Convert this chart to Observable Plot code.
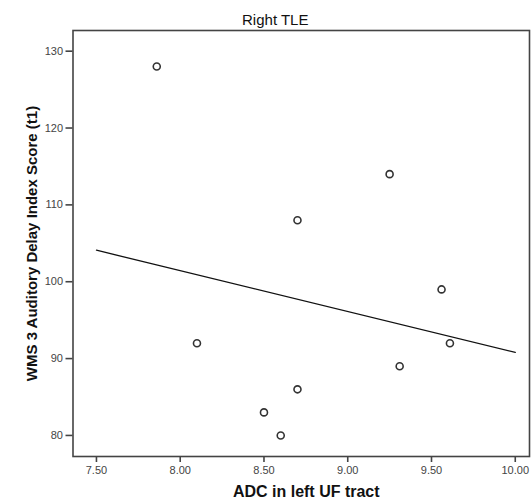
<!DOCTYPE html>
<html>
<head>
<meta charset="utf-8">
<script src="https://cdn.jsdelivr.net/npm/d3@7"></script>
<script src="https://cdn.jsdelivr.net/npm/@observablehq/plot@0.6"></script>
<style>
  body { margin: 0; background: #fff; }
  #chart svg { display: block; }
</style>
</head>
<body>
<div id="chart"></div>
<script>
const title = "Right TLE";
const xLabel = "ADC in left UF tract";
const yLabel = "WMS 3 Auditory Delay Index Score (t1)";
const adc = [7.86, 9.25, 8.70, 9.56, 8.10, 9.61, 9.31, 8.70, 8.50, 8.60];
const score = [128, 114, 108, 99, 92, 92, 89, 86, 83, 80];
const fitX = [7.5, 10.0];
const fitY = [104.1, 90.8];
const xTicks = [7.5, 8.0, 8.5, 9.0, 9.5, 10.0];
const yTicks = [80, 90, 100, 110, 120, 130];

const points = adc.map((x, i) => ({x, y: score[i]}));
const fit = fitX.map((x, i) => ({x, y: fitY[i]}));

const font = "'Liberation Sans', Arial, sans-serif";

const plot = Plot.plot({
  width: 532,
  height: 500,
  marginLeft: 72.5,
  marginRight: 3,
  marginTop: 30,
  marginBottom: 44,
  style: {fontFamily: font, fontSize: "11px", background: "#fff"},
  x: {domain: [7.36, 10.085]},
  y: {domain: [77.26, 132.69]},
  marks: [
    Plot.frame({stroke: "#444", strokeWidth: 1.6}),
    Plot.axisX({ticks: xTicks, tickFormat: d3.format(".2f"), tickSize: 6, tickPadding: 4, stroke: "#444", strokeWidth: 1.6, fill: "#444", fontSize: 11, label: null}),
    Plot.axisY({ticks: yTicks, tickSize: 7, tickPadding: 3, stroke: "#444", strokeWidth: 1.6, fill: "#444", fontSize: 11, label: null}),
    Plot.line(fit, {x: "x", y: "y", stroke: "#111", strokeWidth: 1.3}),
    Plot.dot(points, {x: "x", y: "y", r: 3.5, stroke: "#333", strokeWidth: 1.6, fill: "none"}),
    Plot.text([title], {frameAnchor: "top", lineAnchor: "middle", textAnchor: "middle", dy: -10, dx: -26, text: d => d, fontSize: 15, fill: "#111"}),
    Plot.text([xLabel], {frameAnchor: "bottom", lineAnchor: "middle", textAnchor: "middle", dy: 35, dx: 5, text: d => d, fontSize: 16, fontWeight: "bold", fill: "#111"}),
    Plot.text([yLabel], {frameAnchor: "left", lineAnchor: "middle", textAnchor: "middle", dx: -40.5, dy: 0, rotate: -90, text: d => d, fontSize: 15, fontWeight: "bold", fill: "#111"})
  ]
});
document.getElementById("chart").appendChild(plot);
</script>
</body>
</html>
